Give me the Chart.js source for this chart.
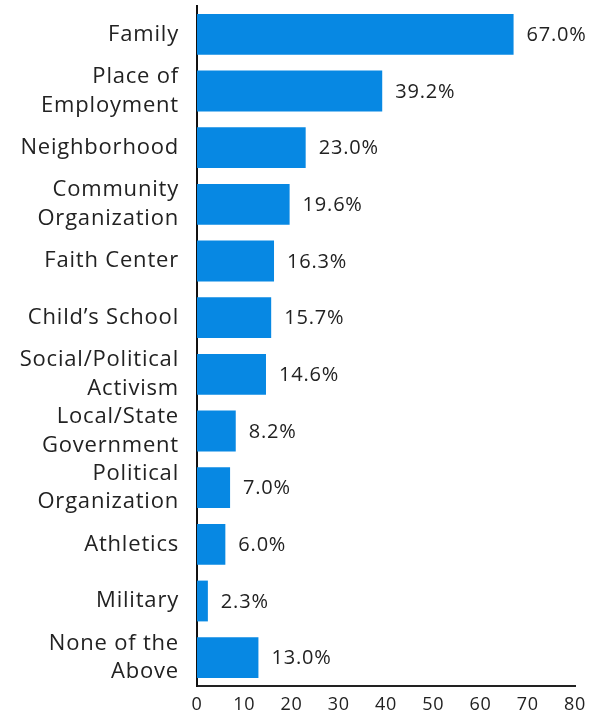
<!DOCTYPE html>
<html>
<head>
<meta charset="utf-8">
<script src="https://cdn.jsdelivr.net/npm/chart.js@4"></script>
<style>
  html, body { margin: 0; padding: 0; background: #fff; }
  #wrap { width: 597px; height: 719px; }
</style>
</head>
<body>
<div id="wrap"><canvas id="grafico"></canvas></div>
<script>
// categorias y porcentajes
const categorias = [
  'Family',
  ['Place of', 'Employment'],
  'Neighborhood',
  ['Community', 'Organization'],
  'Faith Center',
  'Child\u2019s School',
  ['Social/Political', 'Activism'],
  ['Local/State', 'Government'],
  ['Political', 'Organization'],
  'Athletics',
  'Military',
  ['None of the', 'Above']
]
const porcentajes = [67.0, 39.2, 23.0, 19.6, 16.3, 15.7, 14.6, 8.2, 7.0, 6.0, 2.3, 13.0]
const ejeX = [0, 80, 10] // min, max, paso

const fuente = '"Open Sans", Lato, sans-serif'
const texto = '#222222'

// letras un poco mas separadas en todo el grafico
const espaciado = {
  id: 'espaciado',
  beforeDraw(chart) {
    chart.ctx.letterSpacing = '0.8px'
  }
}

// escribe el valor al final de cada barra
const etiquetas = {
  id: 'etiquetas',
  afterDatasetsDraw(chart) {
    const c = chart.ctx
    const meta = chart.getDatasetMeta(0)
    c.save()
    c.font = '20px ' + fuente
    c.fillStyle = texto
    c.textAlign = 'left'
    c.textBaseline = 'middle'
    meta.data.forEach((barra, i) => {
      c.fillText(porcentajes[i].toFixed(1) + '%', barra.x + 13, barra.y + 1)
    })
    c.restore()
  }
}

const ctx = document.getElementById('grafico')
let grafico = new Chart(ctx, {
  type: 'bar',
  data: {
    labels: categorias,
    datasets: [{
      data: porcentajes,
      backgroundColor: '#0788e3',
      borderWidth: 0,
      categoryPercentage: 1,
      barPercentage: 0.72
    }]
  },
  options: {
    indexAxis: 'y',
    responsive: true,
    maintainAspectRatio: false,
    animation: false,
    layout: { padding: { top: 6, right: 22, left: 0, bottom: 0 } },
    plugins: {
      legend: { display: false },
      tooltip: { enabled: false }
    },
    scales: {
      x: {
        min: ejeX[0],
        max: ejeX[1],
        grid: { display: false, drawTicks: false },
        border: { display: true, color: '#222', width: 2 },
        ticks: {
          stepSize: ejeX[2],
          color: texto,
          padding: 8,
          font: { family: fuente, size: 18 }
        },
        afterFit(scale) { scale.height = 33 }
      },
      y: {
        grid: { display: false, drawTicks: false },
        border: { display: true, color: '#111', width: 2 },
        ticks: {
          color: texto,
          padding: 18,
          autoSkip: false,
          font: { family: fuente, size: 22, lineHeight: 1.3 }
        },
        afterFit(scale) {
          scale.width = 197
          scale.paddingTop = 0
          scale.paddingBottom = 0
        }
      }
    }
  },
  plugins: [espaciado, etiquetas]
})
</script>
</body>
</html>
